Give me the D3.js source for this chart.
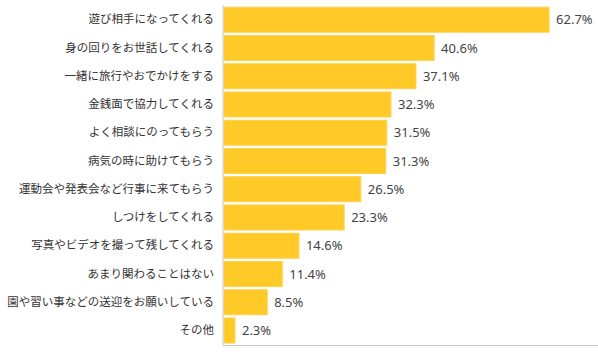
<!DOCTYPE html>
<html>
<head>
<meta charset="utf-8">
<script src="https://cdn.jsdelivr.net/npm/d3@7"></script>
<style>
  body { margin: 0; background: #fff; }
  svg { display: block; }
</style>
</head>
<body>
<svg id="chart" width="598" height="352"></svg>
<script>
const categories = [
    "遊び相手になってくれる",
    "身の回りをお世話してくれる",
    "一緒に旅行やおでかけをする",
    "金銭面で協力してくれる",
    "よく相談にのってもらう",
    "病気の時に助けてもらう",
    "運動会や発表会など行事に来てもらう",
    "しつけをしてくれる",
    "写真やビデオを撮って残してくれる",
    "あまり関わることはない",
    "園や習い事などの送迎をお願いしている",
    "その他"
];
const values = [62.7, 40.6, 37.1, 32.3, 31.5, 31.3, 26.5, 23.3, 14.6, 11.4, 8.5, 2.3];

const svg = d3.select("#chart");
const left = 223;

const x = d3.scaleLinear().domain([0, 70]).range([left, left + 70 * 5.2]);
const y = d3.scaleBand()
    .domain(categories)
    .range([5.5, 344.7])
    .paddingInner(0.115)
    .paddingOuter(0.06);

// bars
svg.append("g")
    .selectAll("rect")
    .data(values)
    .enter()
    .append("rect")
    .attr("x", x(0) + 1)
    .attr("y", function (d, i) { return y(categories[i]); })
    .attr("width", function (d) { return x(d) - x(0) - 1; })
    .attr("height", y.bandwidth())
    .attr("fill", "#ffc928")
    .attr("stroke", "#ffd24a")
    .attr("stroke-width", 1);

// value labels
svg.append("g")
    .selectAll("text")
    .data(values)
    .enter()
    .append("text")
    .attr("x", function (d) { return x(d) + 7; })
    .attr("y", function (d, i) { return y(categories[i]) + y.bandwidth() / 2; })
    .attr("dy", "0.35em")
    .attr("font-family", "'Noto Sans', sans-serif")
    .attr("font-size", 13)
    .attr("fill", "#444")
    .text(function (d) { return d.toFixed(1) + "%"; });

// category axis
const yAxis = d3.axisLeft(y).tickSize(0).tickPadding(9);
const ga = svg.append("g")
    .attr("transform", "translate(" + left + ",0)")
    .call(yAxis);
ga.select(".domain").remove();
ga.selectAll("text")
    .attr("font-family", "'Noto Sans CJK JP', sans-serif")
    .attr("font-size", 11.5)
    .attr("fill", "#333");

// axis lines
svg.append("line")
    .attr("x1", left).attr("x2", left)
    .attr("y1", 5).attr("y2", 345.5)
    .attr("stroke", "#c8c8c8");
svg.append("line")
    .attr("x1", left).attr("x2", 598)
    .attr("y1", 345.5).attr("y2", 345.5)
    .attr("stroke", "#c8c8c8");
</script>
</body>
</html>
